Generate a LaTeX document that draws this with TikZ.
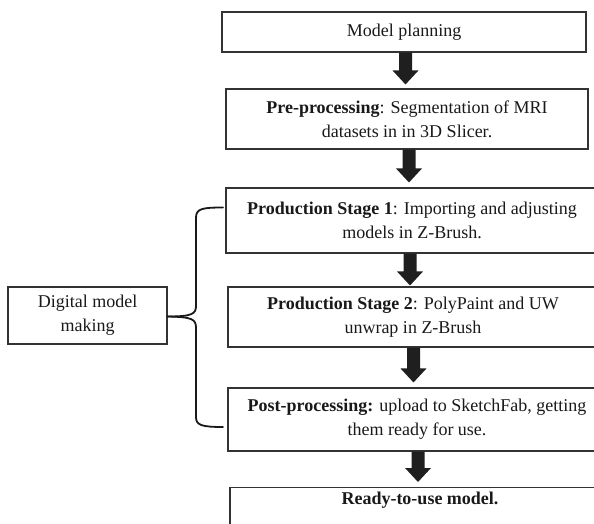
\documentclass[tikz,border=0pt]{standalone}
\usepackage{fontspec}
\setmainfont{Liberation Serif}
\tikzset{
  boxbase/.style={draw=black!80, line width=1.1pt, inner sep=0pt, text=black!90,
    font=\fontsize{18}{24}\selectfont},
  box/.style={boxbase, align=center},
  arrowfill/.style={fill=black!88},
  bracestyle/.style={draw=black!90, line width=1.8pt, line cap=round, line join=round}
}
\newcommand\blkarrow[4]{%
  \fill[arrowfill] let \p1=(#2.south), \p2=(#3.north) in
    ({#1pt-6.5pt},\y1) -- ({#1pt-6.5pt},{\y2+#4pt+14pt}) -- ({#1pt-13pt},{\y2+#4pt+14pt})
    -- ({#1pt},{\y2+#4pt}) -- ({#1pt+13pt},{\y2+#4pt+14pt}) -- ({#1pt+6.5pt},{\y2+#4pt+14pt})
    -- ({#1pt+6.5pt},\y1) -- cycle;}
\usetikzlibrary{calc}
\begin{document}
\begin{tikzpicture}[x=1pt,y=1pt]
\useasboundingbox (0,0) rectangle (594,-524);

\node[box, minimum width=364, minimum height=40] (plan) at (404,-32) {Model planning};
\node[box, minimum width=362, minimum height=60] (pre) at (407,-119)
  {\textbf{Pre-processing}: Segmentation of MRI\\datasets in in 3D Slicer.};
\node[box, minimum width=372, minimum height=65] (s1) at (412,-220.5)
  {\textbf{Production Stage 1}: Importing and adjusting\\models in Z-Brush.};
\node[box, minimum width=370, minimum height=60] (s2) at (413,-317)
  {\textbf{Production Stage 2}: PolyPaint and UW\\unwrap in Z-Brush};
\node[box, minimum width=378, minimum height=63] (post) at (417,-419.5)
  {\textbf{Post-processing:} upload to SketchFab, getting\\them ready for use.};
\node[boxbase, anchor=north, minimum width=380, text height=12pt, text depth=50pt,
  inner ysep=5pt] (ready) at (420,-487) {\textbf{Ready-to-use model.}};

\node[box, minimum width=159, minimum height=57] (dig) at (87.5,-315.5)
  {Digital model\\making};

\blkarrow{405.5}{plan}{pre}{4}
\blkarrow{409}{pre}{s1}{5}
\blkarrow{410}{s1}{s2}{1}
\blkarrow{413.5}{s2}{post}{5}
\blkarrow{418}{post}{ready}{5}

\coordinate (btop) at (223,-207.5);
\coordinate (bbot) at (223,-427);
\draw[bracestyle] (btop) .. controls (201,-207.5) and (196,-209) .. (196,-218)
  -- (196,-306) .. controls (196,-314) and (192,-316.5) .. (dig.east |- 0,-316.5);
\draw[bracestyle] (dig.east |- 0,-316.5) .. controls (192,-317) and (196,-319) .. (196,-328)
  -- (196,-417) .. controls (196,-425) and (201,-427) .. (bbot);
\end{tikzpicture}
\end{document}
